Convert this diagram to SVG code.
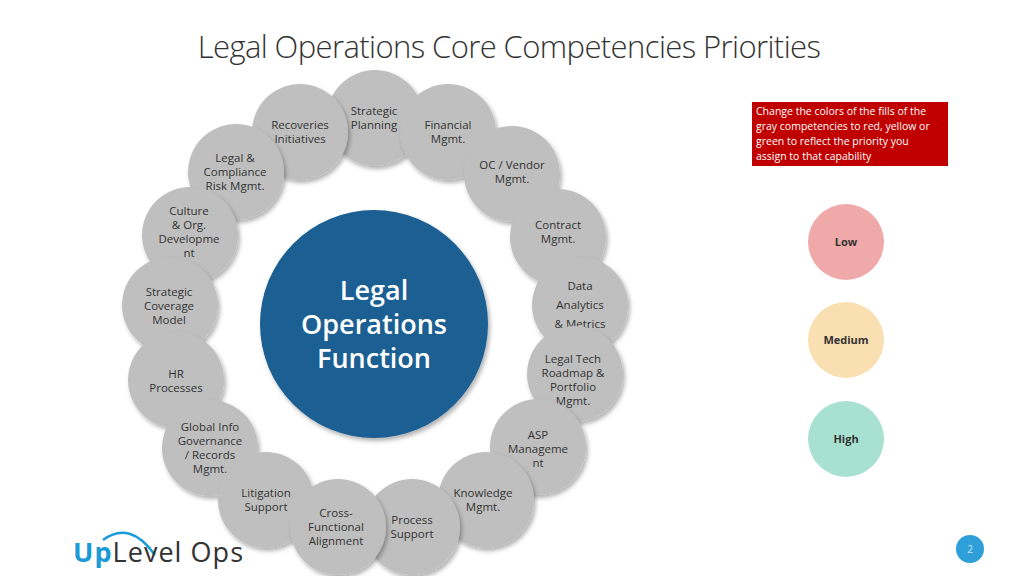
<svg xmlns="http://www.w3.org/2000/svg" width="1024" height="576" viewBox="0 0 1024 576">
<defs>
<filter id="sh" x="-20%" y="-20%" width="140%" height="140%"><feDropShadow dx="2" dy="3" stdDeviation="2" flood-color="#000" flood-opacity="0.3"/></filter>
</defs>
<style>
.c{fill:#bfbfbf;filter:url(#sh)}
.t{font-family:"Open Sans","Liberation Sans",sans-serif;font-size:11.5px;fill:#333;text-anchor:middle}
.l{font-family:"Open Sans","Liberation Sans",sans-serif;font-size:11px;font-weight:bold;fill:#333;text-anchor:middle}
</style>
<rect width="1024" height="576" fill="#fff"/>
<text x="509" y="58" font-family="'Open Sans','Liberation Sans',sans-serif" font-size="31" font-weight="300" fill="#333" text-anchor="middle" letter-spacing="-0.6">Legal Operations Core Competencies Priorities</text>
<g id="n-sp"><circle class="c" cx="375" cy="118" r="48"/><text class="t" x="374" y="115">Strategic</text><text class="t" x="374" y="129">Planning</text></g>
<g id="n-fin"><circle class="c" cx="448" cy="132" r="48"/><text class="t" x="448" y="129">Financial</text><text class="t" x="448" y="143">Mgmt.</text></g>
<g id="n-rec"><circle class="c" cx="300" cy="132" r="48"/><text class="t" x="300" y="129">Recoveries</text><text class="t" x="300" y="143">Initiatives</text></g>
<g id="n-oc"><circle class="c" cx="512" cy="174" r="48"/><text class="t" x="512" y="169">OC / Vendor</text><text class="t" x="512" y="183">Mgmt.</text></g>
<g id="n-lc"><circle class="c" cx="236" cy="172" r="48"/><text class="t" x="235" y="162">Legal &amp;</text><text class="t" x="235" y="176">Compliance</text><text class="t" x="235" y="190">Risk Mgmt.</text></g>
<g id="n-con"><circle class="c" cx="558" cy="237" r="48"/><text class="t" x="558" y="229">Contract</text><text class="t" x="558" y="243">Mgmt.</text></g>
<g id="n-cul"><circle class="c" cx="190" cy="235" r="48"/><text class="t" x="189" y="215">Culture</text><text class="t" x="189" y="229">&amp; Org.</text><text class="t" x="189" y="243">Developme</text><text class="t" x="189" y="257">nt</text></g>
<g id="n-da"><circle class="c" cx="580" cy="305" r="48"/><text class="t" x="580" y="290">Data</text><text class="t" x="580" y="309">Analytics</text><text class="t" x="580" y="328">&amp; Metrics</text></g>
<g id="n-scm"><circle class="c" cx="170" cy="305" r="48"/><text class="t" x="169" y="296">Strategic</text><text class="t" x="169" y="310">Coverage</text><text class="t" x="169" y="324">Model</text></g>
<g id="n-lt"><circle class="c" cx="575" cy="374" r="48"/><text class="t" x="573" y="363">Legal Tech</text><text class="t" x="573" y="377">Roadmap &amp;</text><text class="t" x="573" y="391">Portfolio</text><text class="t" x="573" y="405">Mgmt.</text></g>
<g id="n-hr"><circle class="c" cx="176" cy="380" r="48"/><text class="t" x="176" y="378">HR</text><text class="t" x="176" y="392">Processes</text></g>
<g id="n-asp"><circle class="c" cx="538" cy="447" r="48"/><text class="t" x="538" y="439">ASP</text><text class="t" x="538" y="453">Manageme</text><text class="t" x="538" y="467">nt</text></g>
<g id="n-gi"><circle class="c" cx="210" cy="448" r="48"/><text class="t" x="210" y="431">Global Info</text><text class="t" x="210" y="445">Governance</text><text class="t" x="210" y="459">/ Records</text><text class="t" x="210" y="473">Mgmt.</text></g>
<g id="n-km"><circle class="c" cx="486" cy="500" r="48"/><text class="t" x="483" y="497">Knowledge</text><text class="t" x="483" y="511">Mgmt.</text></g>
<g id="n-lit"><circle class="c" cx="266" cy="500" r="48"/><text class="t" x="266" y="497">Litigation</text><text class="t" x="266" y="511">Support</text></g>
<g id="n-ps"><circle class="c" cx="412" cy="527" r="48"/><text class="t" x="412" y="524">Process</text><text class="t" x="412" y="538">Support</text></g>
<g id="n-cf"><circle class="c" cx="338" cy="527" r="48"/><text class="t" x="336" y="517">Cross-</text><text class="t" x="336" y="531">Functional</text><text class="t" x="336" y="545">Alignment</text></g>
<g id="n-center"><circle cx="374" cy="324" r="114" fill="#1b5e93" filter="url(#sh)"/>
<g font-family="'Open Sans','Liberation Sans',sans-serif" font-size="27" font-weight="600" fill="#fff" text-anchor="middle"><text x="374" y="300">Legal</text><text x="374" y="334">Operations</text><text x="374" y="368">Function</text></g></g>
<g id="note"><rect x="752" y="102" width="196" height="64" fill="#c00000"/>
<g font-family="'Open Sans','Liberation Sans',sans-serif" font-size="10.5" fill="#fff"><text x="756" y="115">Change the colors of the fills of the</text><text x="756" y="130">gray competencies to red, yellow or</text><text x="756" y="145">green to reflect the priority you</text><text x="756" y="160">assign to that capability</text></g></g>
<g id="low"><circle cx="846" cy="242" r="38" fill="#f0a9a9"/><text class="l" x="846" y="246">Low</text></g>
<g id="med"><circle cx="846" cy="340" r="38" fill="#f9dfb2"/><text class="l" x="846" y="344">Medium</text></g>
<g id="high"><circle cx="846" cy="439" r="38" fill="#a9e1d1"/><text class="l" x="846" y="443">High</text></g>
<g id="logo"><path d="M103 540 Q130 520 155 555" fill="none" stroke="#1a9ad6" stroke-width="2.5"/>
<text x="73" y="562" font-family="'Open Sans','Liberation Sans',sans-serif" font-size="27" fill="#333" textLength="170"><tspan fill="#1a9ad6" font-weight="bold">Up</tspan>Level Ops</text></g>
<g id="page"><circle cx="970" cy="549" r="14" fill="#2e9fd8"/><text x="970" y="553" font-family="'Open Sans','Liberation Sans',sans-serif" font-size="10" fill="#cfe8f7" text-anchor="middle">2</text></g>
<g id="connectors"/>
</svg>
